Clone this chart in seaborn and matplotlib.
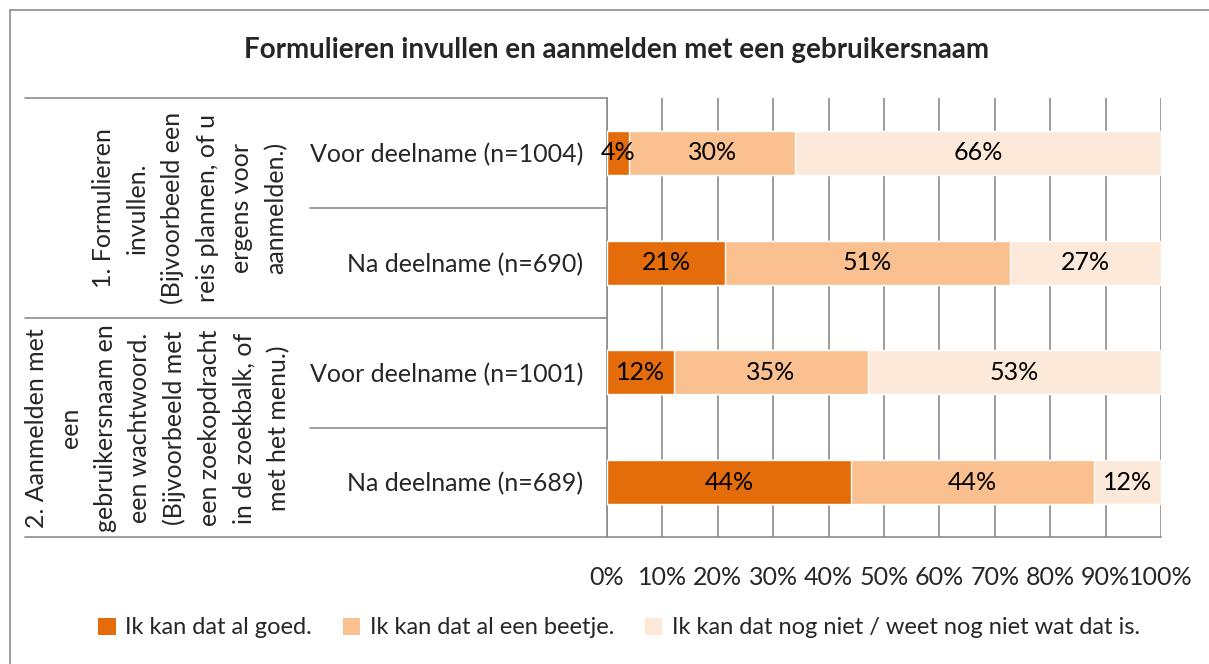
import numpy as np
import pandas as pd
import matplotlib
matplotlib.use('Agg')
import matplotlib.pyplot as plt
from matplotlib.lines import Line2D
from matplotlib.patches import Patch
import seaborn as sns

# Data
rows = ['Voor deelname (n=1004)', 'Na deelname (n=690)',
        'Voor deelname (n=1001)', 'Na deelname (n=689)']
goed = [4.0, 21.3, 12.1, 44.0]
beetje = [30.0, 51.4, 35.0, 43.9]
niet = [66.0, 27.3, 52.9, 12.1]
series_names = ['Ik kan dat al goed.', 'Ik kan dat al een beetje.',
                'Ik kan dat nog niet / weet nog niet wat dat is.']
groups = ['1. Formulieren\ninvullen.\n(Bijvoorbeeld een\nreis plannen, of u\nergens voor\naanmelden.)',
          '2. Aanmelden met\neen\ngebruikersnaam en\neen wachtwoord.\n(Bijvoorbeeld met\neen zoekopdracht\nin de zoekbalk, of\nmet het menu.)']
xticks = [0, 10, 20, 30, 40, 50, 60, 70, 80, 90, 100]

colors = ['#E46C0A', '#FAC090', '#FDE9D9']
grey = '#8C8C8C'
fs = 18

sns.set_style('white')
plt.rcParams['font.family'] = ['Lato', 'DejaVu Sans']

W, H = 1209, 664
fig = plt.figure(figsize=(W / 100, H / 100), dpi=100)
ax = fig.add_axes([607 / W, 1 - 537 / H, 554 / W, 439 / H])

df = pd.DataFrame({'row': rows, 'goed': goed, 'beetje': beetje, 'niet': niet})
df['c1'] = df['goed']
df['c2'] = df['goed'] + df['beetje']
df['c3'] = df['c2'] + df['niet']

# stacked bars: draw cumulative totals from the back to the front
for col, color in zip(['c3', 'c2', 'c1'], colors[::-1]):
    sns.barplot(data=df, x=col, y='row', order=rows, color=color,
                width=0.4, saturation=1, ax=ax, zorder=3)

for i in range(len(rows)):
    starts = [0, df['c1'][i], df['c2'][i]]
    vals = [df['goed'][i], df['beetje'][i], df['niet'][i]]
    for s, v in zip(starts, vals):
        ax.text(s + v / 2, i, f'{v:.0f}%', ha='center', va='center',
                fontsize=fs, color='black', zorder=5)

ax.set_xlim(0, 100)
ax.set_xticks(xticks)
ax.set_xticklabels([f'{t}%' for t in xticks], fontsize=fs)
ax.set_ylabel('')
ax.set_xlabel('')
ax.set_yticks(range(len(rows)))
ax.set_yticklabels(rows, fontsize=fs)
ax.tick_params(axis='y', length=0, pad=17)
ax.tick_params(axis='x', length=8, color=grey, width=1.2, direction='out', pad=13)
ax.xaxis.grid(True, color=grey, linewidth=1.2, zorder=0)
ax.set_axisbelow(True)
for s in ['top', 'right']:
    ax.spines[s].set_visible(False)
for s in ['left', 'bottom']:
    ax.spines[s].set_color(grey)
    ax.spines[s].set_linewidth(1.2)


def px_line(x0, y0, x1, y1):
    fig.add_artist(Line2D([x0 / W, x1 / W], [1 - y0 / H, 1 - y1 / H],
                          color=grey, linewidth=1.2, transform=fig.transFigure))


# multi-level category separators
px_line(25, 98, 607, 98)
px_line(25, 318, 607, 318)
px_line(25, 537, 607, 537)
px_line(310, 208, 607, 208)
px_line(310, 428, 607, 428)

# outer chart frame
px_line(10, 10, W, 10)
px_line(10, 10, 10, H)

# group labels
fig.text(288 / W, 1 - 208 / H, groups[0], rotation=90, ha='right', va='center',
         multialignment='center', fontsize=fs, linespacing=1.6)
fig.text(290 / W, 1 - 428 / H, groups[1], rotation=90, ha='right', va='center',
         multialignment='center', fontsize=fs, linespacing=1.6)

fig.text(616 / W, 1 - 50 / H, 'Formulieren invullen en aanmelden met een gebruikersnaam',
         ha='center', va='center', fontsize=20, fontweight='bold')

handles = [Patch(facecolor=c, edgecolor='none') for c in colors]
fig.legend(handles, series_names, loc='center', bbox_to_anchor=(619 / W, 1 - 628 / H),
           ncol=3, frameon=False, fontsize=17, handlelength=0.75, handleheight=0.75,
           handletextpad=0.4, columnspacing=1.3)

fig.savefig('out.png', dpi=100)
